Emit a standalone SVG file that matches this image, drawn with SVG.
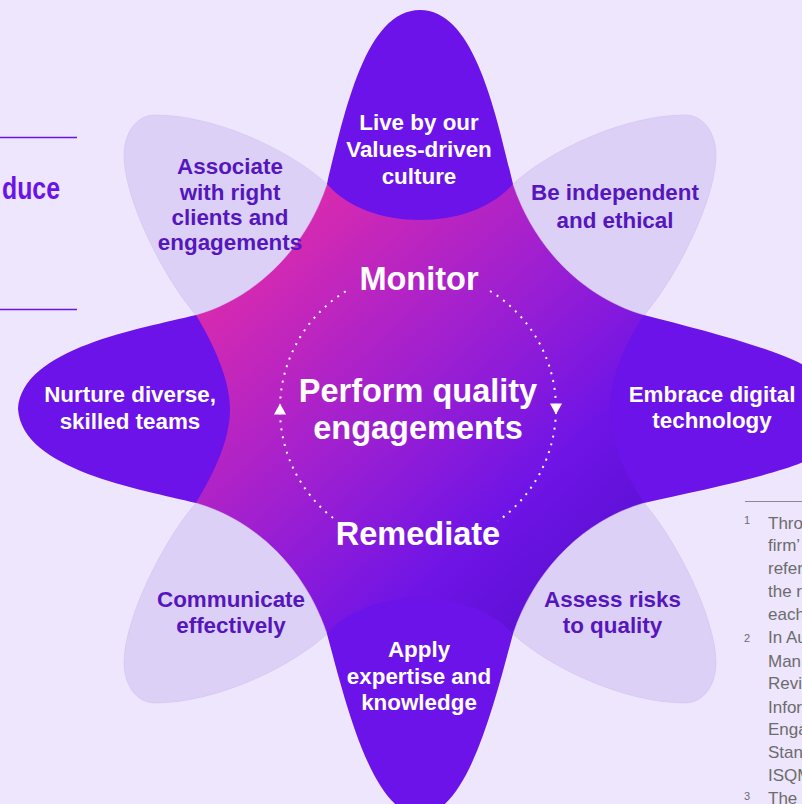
<svg xmlns="http://www.w3.org/2000/svg" width="802" height="804" viewBox="0 0 802 804">
  <defs>
    <style>
      .petal-main { fill: #6b13e8; }
      .petal-soft { fill: #ddd0f7; stroke: #cdbdec; stroke-width: 0.5; }
      .label { font-family: "Liberation Sans", Arial, sans-serif; font-weight: 700; font-size: 22.4px; text-anchor: middle; }
      .on-dark { fill: #ffffff; }
      .on-light { fill: #5516bd; }
      .core { font-family: "Liberation Sans", Arial, sans-serif; font-weight: 700; font-size: 32.5px; text-anchor: middle; fill: #ffffff; }
      .cycle { fill: none; stroke: #ffffff; stroke-width: 2; stroke-dasharray: 2 6; }
      .note { font-family: "Liberation Sans", Arial, sans-serif; font-size: 17px; fill: #6c6c6c; }
      .note-num { font-family: "Liberation Sans", Arial, sans-serif; font-size: 11px; fill: #6c6c6c; }
      .rule { stroke: #6b13e8; stroke-width: 1.5; }
    </style>
    <linearGradient id="coreFill" gradientUnits="userSpaceOnUse" x1="250" y1="240" x2="590" y2="600">
      <stop offset="0" stop-color="#dc2bad"/>
      <stop offset="0.45" stop-color="#9c1fd2"/>
      <stop offset="0.75" stop-color="#6f14e6"/>
      <stop offset="1" stop-color="#5a10d2"/>
    </linearGradient>
    <!-- long vertical lobe (top) -->
    <path id="lobe-top" d="M 420 10 C 474 10 495 110 513 184 C 492 208 457 220 420 220 C 383 220 348 208 327 184 C 345 110 366 10 420 10 Z"/>
    <!-- long vertical lobe (bottom), runs slightly past the lower edge -->
    <path id="lobe-bottom" d="M 327 634 C 345 700 372 815 420 815 C 468 815 495 700 513 634 C 492 610 457 598 420 598 C 383 598 348 610 327 634 Z"/>
    <!-- long horizontal lobe (left) -->
    <path id="lobe-left" d="M 196 315 C 140 329 22 348 18 409 C 22 470 140 489 196 503 C 214 473 230 440 230 409 C 230 380 214 345 196 315 Z"/>
    <!-- long horizontal lobe (right), runs past the right edge -->
    <path id="lobe-right" d="M 644 315 C 702 330 782 350 812 370 C 842 390 842 440 812 458 C 782 474 702 490 644 503 C 624 473 610 440 610 409 C 610 380 624 345 644 315 Z"/>
    <!-- short diagonal lobe (top-left); mirrored for the other three -->
    <path id="lobe-d" d="M 196 315 C 255 298 305 250 327 184 C 290 150 215 115 155 115 C 135 115 124 135 124 155 C 124 200 165 280 196 315 Z"/>
    <marker id="arrowhead" viewBox="0 0 12 12" refX="6" refY="6" markerWidth="12" markerHeight="12" markerUnits="userSpaceOnUse" orient="auto">
      <path d="M 0.5 0 L 11.5 6 L 0.5 12 Z" fill="#ffffff"/>
    </marker>
  </defs>

  <!-- page background -->
  <rect x="0" y="0" width="802" height="804" fill="#eee6fc"/>

  <!-- heading fragment and rules on the left -->
  <g id="heading">
    <line class="rule" x1="0" y1="137.5" x2="77" y2="137.5"/>
    <text x="2" y="199" font-family="'Liberation Sans', Arial, sans-serif" font-weight="700" font-size="32" fill="#6b13e8" textLength="58" lengthAdjust="spacingAndGlyphs">duce</text>
    <line class="rule" x1="0" y1="309.5" x2="77" y2="309.5"/>
  </g>

  <!-- central body -->
  <g id="core">
    <polygon points="327,184 513,184 644,315 644,503 513,634 327,634 196,503 196,315" fill="url(#coreFill)"/>
  </g>

  <!-- diagonal lobes -->
  <g id="associate">
    <use href="#lobe-d" class="petal-soft"/>
    <text class="label on-light" x="230" y="174">Associate</text>
    <text class="label on-light" x="230" y="199.5">with right</text>
    <text class="label on-light" x="230" y="225">clients and</text>
    <text class="label on-light" x="230" y="250">engagements</text>
  </g>
  <g id="independent">
    <use href="#lobe-d" class="petal-soft" transform="matrix(-1 0 0 1 840 0)"/>
    <text class="label on-light" x="615" y="200">Be independent</text>
    <text class="label on-light" x="615" y="227.5">and ethical</text>
  </g>
  <g id="communicate">
    <use href="#lobe-d" class="petal-soft" transform="matrix(1 0 0 -1 0 818)"/>
    <text class="label on-light" x="231" y="607">Communicate</text>
    <text class="label on-light" x="231" y="632.5">effectively</text>
  </g>
  <g id="assess">
    <use href="#lobe-d" class="petal-soft" transform="matrix(-1 0 0 -1 840 818)"/>
    <text class="label on-light" x="612.5" y="607">Assess risks</text>
    <text class="label on-light" x="612.5" y="633">to quality</text>
  </g>

  <!-- cardinal lobes -->
  <g id="values">
    <use href="#lobe-top" class="petal-main"/>
    <text class="label on-dark" x="419" y="130">Live by our</text>
    <text class="label on-dark" x="419" y="157">Values-driven</text>
    <text class="label on-dark" x="419" y="184">culture</text>
  </g>
  <g id="expertise">
    <use href="#lobe-bottom" class="petal-main"/>
    <text class="label on-dark" x="419" y="657">Apply</text>
    <text class="label on-dark" x="419" y="684">expertise and</text>
    <text class="label on-dark" x="419" y="710">knowledge</text>
  </g>
  <g id="teams">
    <use href="#lobe-left" class="petal-main"/>
    <text class="label on-dark" x="130" y="401.5">Nurture diverse,</text>
    <text class="label on-dark" x="130" y="428.5">skilled teams</text>
  </g>
  <g id="digital">
    <use href="#lobe-right" class="petal-main"/>
    <text class="label on-dark" x="712" y="401.5">Embrace digital</text>
    <text class="label on-dark" x="712" y="428">technology</text>
  </g>

  <!-- quality cycle: dotted ring with direction arrows -->
  <g id="connectors">
    <path class="cycle" marker-mid="url(#arrowhead)" d="M 490 291 A 138 138 0 0 1 556 409 A 138 138 0 0 1 498 521"/>
    <path class="cycle" marker-mid="url(#arrowhead)" d="M 333 518 A 138 138 0 0 1 280 409 A 138 138 0 0 1 348 290"/>
  </g>

  <g id="cycle-labels">
    <text class="core" x="419" y="290">Monitor</text>
    <text class="core" x="418" y="402">Perform quality</text>
    <text class="core" x="418" y="438.5">engagements</text>
    <text class="core" x="418" y="545">Remediate</text>
  </g>

  <!-- footnotes, running off the right edge -->
  <g id="footnotes">
    <line x1="745" y1="501.5" x2="802" y2="501.5" stroke="#8a8a8a" stroke-width="1"/>
    <text class="note-num" x="744" y="524">1</text>
    <text class="note" x="768" y="529">Thro</text>
    <text class="note" x="768" y="551">firm’</text>
    <text class="note" x="768" y="574">refer</text>
    <text class="note" x="768" y="597">the r</text>
    <text class="note" x="768" y="620">each</text>
    <text class="note-num" x="744" y="642">2</text>
    <text class="note" x="768" y="643">In Au</text>
    <text class="note" x="768" y="666.5">Man</text>
    <text class="note" x="768" y="689">Revi</text>
    <text class="note" x="768" y="712.5">Infor</text>
    <text class="note" x="768" y="735">Enga</text>
    <text class="note" x="768" y="758">Stan</text>
    <text class="note" x="768" y="781">ISQM</text>
    <text class="note-num" x="744" y="800">3</text>
    <text class="note" x="768" y="804">The</text>
  </g>
</svg>
